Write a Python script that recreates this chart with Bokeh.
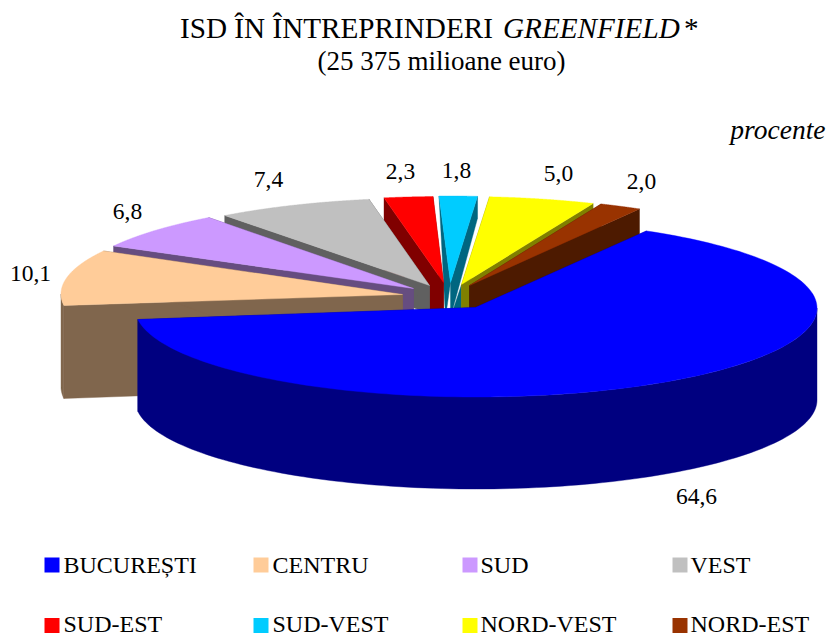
import numpy as np
from bokeh.plotting import figure
from bokeh.models import Range1d
from bokeh.core.properties import value
from bokeh.embed import file_html
from bokeh.resources import INLINE

# ---- data
regions = ["BUCUREȘTI", "CENTRU", "SUD", "VEST", "SUD-EST", "SUD-VEST", "NORD-VEST", "NORD-EST"]
shares = [64.6, 10.1, 6.8, 7.4, 2.3, 1.8, 5.0, 2.0]
top_colors = ["#0000FF", "#FFCC99", "#CC99FF", "#C0C0C0", "#FF0000", "#00CCFF", "#FFFF00", "#993300"]
wall_colors = ["#000080", "#80664D", "#664D80", "#606060", "#800000", "#006680", "#808000", "#4D1A00"]
title_parts = ["ISD ÎN ÎNTREPRINDERI", "GREENFIELD", "*"]
subtitle = "(25 375 milioane euro)"
unit_label = "procente"

# ---- layout of the 3-D pie
CX, CY, RX, RY = 475.5, 307.5, 341.0, 89.0
START_ANGLE = 30.0
rim_dx = [0, -74, -64, -48, -33, -27, -15, -7]
rim_dy = [0, -14, -19, -21, -22.5, -23, -22.5, -22]
apex_x = [475, 402, 413, 429, 443, 450, 461, 469]
apex_y = [307, 294, 288, 285, 282, 282, 284, 285]
depth_start = [92, 93, 25, 25, 92, 0, 22, 30]
depth_end = [92, 25, 25, 25, 25, 22, 22, 30]
depth_apex = [92, 92, 28, 28, 40, 35, 28, 28]
foot_shift = [0, 0, 0, 0, 0, -5, 0, 0]
wall_apron = [0, 0, 0, 0, 0, 1, 0, 0]
draw_order = [5, 4, 6, 7, 3, 2, 1, 0]
label_x = [696, 30, 127, 268, 400, 456, 558, 641]
label_y = [496, 273, 211, 179, 171, 170, 173, 181]
legend_x = [44, 253, 462, 672, 44, 253, 462, 672]
legend_y = [564.5, 564.5, 564.5, 564.5, 625, 625, 625, 625]
legend_text_x = [63, 272, 480, 690, 63, 272, 480, 690]
legend_text_y = [564, 564, 564, 564, 623, 623, 623, 623]

p = figure(width=827, height=635, x_range=Range1d(0, 827), y_range=Range1d(635, 0),
           output_backend="svg", toolbar_location=None, min_border=0)
p.axis.visible = False
p.grid.visible = False
p.outline_line_color = None
p.background_fill_color = "#FFFFFF"
p.border_fill_color = "#FFFFFF"


def rim(t, i):
    r = np.radians(t)
    return CX + RX * np.sin(r) + rim_dx[i], CY - RY * np.cos(r) + rim_dy[i]


def poly(xs, ys, color):
    p.patch(list(xs), list(ys), fill_color=color, line_color=color, line_width=0.4)


edges = START_ANGLE + np.concatenate([[0], np.cumsum(shares)]) * 360.0 / sum(shares)

for i in draw_order:
    t1, t2 = edges[i], edges[i + 1]
    ax, ay = apex_x[i], apex_y[i]
    wall = wall_colors[i]
    x1, y1 = rim(t1, i)
    x2, y2 = rim(t2, i)
    poly([x1, ax, ax + foot_shift[i], x1], [y1, ay, ay + depth_apex[i], y1 + depth_start[i]], wall)
    poly([x2, ax, ax, x2], [y2, ay, ay + depth_apex[i], y2 + depth_end[i]], wall)
    if wall_apron[i]:
        nx, ny = apex_x[i + 1], apex_y[i + 1]
        poly([ax, nx, nx, ax], [ay + depth_apex[i], ny, ny + depth_apex[i], ay + depth_apex[i]], wall)
    lo, hi = max(t1, 90.0), min(t2, 270.0)
    if hi > lo:
        tt = np.linspace(lo, hi, 120)
        rx_, ry_ = rim(tt, i)
        d = depth_start[i]
        poly(np.concatenate([rx_, rx_[::-1]]), np.concatenate([ry_, ry_[::-1] + d]), wall)
    tt = np.linspace(t1, t2, 160)
    rx_, ry_ = rim(tt, i)
    poly(np.concatenate([[ax], rx_]), np.concatenate([[ay], ry_]), top_colors[i])

SERIF = value("Liberation Serif")


def txt(x, y, s, size, align="left", style="normal"):
    p.text([x], [y], text=[s], text_font=SERIF, text_font_size=value(size), text_color="#000000",
           text_align=align, text_baseline="middle", text_font_style=style)


txt(179.5, 27.5, title_parts[0], "29.2px")
txt(502.5, 27.5, title_parts[1], "29.2px", style="italic")
txt(683.5, 27.5, title_parts[2], "29.2px")
txt(441, 60, subtitle, "27px", align="center")
txt(825, 128.5, unit_label, "27.5px", align="right", style="italic")

for i, v in enumerate(shares):
    txt(label_x[i], label_y[i], f"{v:.1f}".replace(".", ","), "23.5px", align="center")

for i, name in enumerate(regions):
    p.quad(left=[legend_x[i]], right=[legend_x[i] + 15], top=[legend_y[i] - 7.5], bottom=[legend_y[i] + 7.5],
           fill_color=top_colors[i], line_color=None)
    txt(legend_text_x[i], legend_text_y[i], name, "24px")

open("out.html", "w").write(file_html(p, INLINE))
